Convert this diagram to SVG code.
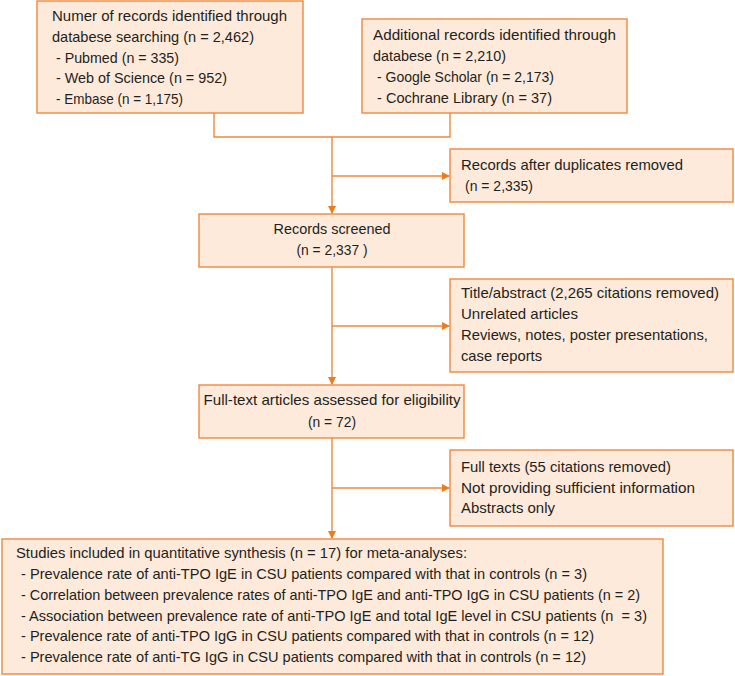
<svg xmlns="http://www.w3.org/2000/svg" width="735" height="676" viewBox="0 0 735 676">
<style>
.box{fill:#FDEADB;stroke:#F0883C;stroke-width:1.4}
.t{font-family:"Liberation Sans","DejaVu Sans",sans-serif;font-size:15px;fill:#231F20}
.s{font-size:14.5px}
.c{text-anchor:middle}
.ln{fill:none;stroke:#F0883C;stroke-width:1.4}
</style>
<defs>
<marker id="ah" markerWidth="8" markerHeight="8" refX="7" refY="4" orient="auto" markerUnits="userSpaceOnUse">
<path d="M0,0 L8,4 L0,8 Z" fill="#F07A1E"/>
</marker>
</defs>
<rect width="735" height="676" fill="#ffffff"/>
<g id="connectors">
<polyline class="ln" points="214,113 214,137 450,137 450,113"/>
<line class="ln" x1="332" y1="137" x2="332" y2="213" marker-end="url(#ah)"/>
<line class="ln" x1="332" y1="176" x2="449" y2="176" marker-end="url(#ah)"/>
<line class="ln" x1="332" y1="267" x2="332" y2="384" marker-end="url(#ah)"/>
<line class="ln" x1="332" y1="326" x2="449" y2="326" marker-end="url(#ah)"/>
<line class="ln" x1="332" y1="438" x2="332" y2="538" marker-end="url(#ah)"/>
<line class="ln" x1="332" y1="488" x2="449" y2="488" marker-end="url(#ah)"/>
</g>
<g id="db">
<rect class="box" x="37" y="1" width="266" height="112"/>
<text class="t" x="52" y="21" textLength="235" lengthAdjust="spacingAndGlyphs">Numer of records identified through</text>
<text class="t" x="52" y="42" textLength="202" lengthAdjust="spacingAndGlyphs">databese searching (n = 2,462)</text>
<text class="t" x="56" y="63" textLength="123" lengthAdjust="spacingAndGlyphs">- Pubmed (n = 335)</text>
<text class="t" x="56" y="83" textLength="171" lengthAdjust="spacingAndGlyphs">- Web of Science (n = 952)</text>
<text class="t" x="56" y="104" textLength="127" lengthAdjust="spacingAndGlyphs">- Embase (n = 1,175)</text>
</g>
<g id="additional">
<rect class="box" x="362" y="19" width="265" height="94"/>
<text class="t" x="373" y="40" textLength="243" lengthAdjust="spacingAndGlyphs">Additional records identified through</text>
<text class="t" x="373" y="61" textLength="133" lengthAdjust="spacingAndGlyphs">databese (n = 2,210)</text>
<text class="t" x="377" y="82" textLength="177" lengthAdjust="spacingAndGlyphs">- Google Scholar (n = 2,173)</text>
<text class="t" x="377" y="103" textLength="175" lengthAdjust="spacingAndGlyphs">- Cochrane Library (n = 37)</text>
</g>
<g id="duplicates">
<rect class="box" x="450" y="149" width="283" height="53"/>
<text class="t" x="461" y="170" textLength="222" lengthAdjust="spacingAndGlyphs">Records after duplicates removed</text>
<text class="t" x="465" y="191" textLength="68" lengthAdjust="spacingAndGlyphs">(n = 2,335)</text>
</g>
<g id="screened">
<rect class="box" x="199" y="214" width="265" height="53"/>
<text class="t c" x="332" y="234" textLength="117" lengthAdjust="spacingAndGlyphs">Records screened</text>
<text class="t c" x="332" y="255" textLength="71" lengthAdjust="spacingAndGlyphs">(n = 2,337 )</text>
</g>
<g id="title-abstract">
<rect class="box" x="450" y="279" width="283" height="93"/>
<text class="t" x="461" y="298" textLength="258" lengthAdjust="spacingAndGlyphs">Title/abstract (2,265 citations removed)</text>
<text class="t" x="461" y="319" textLength="117" lengthAdjust="spacingAndGlyphs">Unrelated articles</text>
<text class="t" x="461" y="340" textLength="247" lengthAdjust="spacingAndGlyphs">Reviews, notes, poster presentations,</text>
<text class="t" x="461" y="361" textLength="81" lengthAdjust="spacingAndGlyphs">case reports</text>
</g>
<g id="fulltext">
<rect class="box" x="199" y="385" width="265" height="53"/>
<text class="t c" x="332" y="405" textLength="257" lengthAdjust="spacingAndGlyphs">Full-text articles assessed for eligibility</text>
<text class="t c" x="332" y="427" textLength="48" lengthAdjust="spacingAndGlyphs">(n = 72)</text>
</g>
<g id="fulltext-removed">
<rect class="box" x="450" y="450" width="283" height="76"/>
<text class="t" x="461" y="472" textLength="210" lengthAdjust="spacingAndGlyphs">Full texts (55 citations removed)</text>
<text class="t" x="461" y="493" textLength="234" lengthAdjust="spacingAndGlyphs">Not providing sufficient information</text>
<text class="t" x="461" y="513" textLength="94" lengthAdjust="spacingAndGlyphs">Abstracts only</text>
</g>
<g id="included">
<rect class="box" x="2" y="539" width="661" height="135"/>
<text class="t s" x="16" y="558" textLength="451" lengthAdjust="spacingAndGlyphs">Studies included in quantitative synthesis (n = 17) for meta-analyses:</text>
<text class="t s" x="21" y="579" textLength="566" lengthAdjust="spacingAndGlyphs">- Prevalence rate of anti-TPO IgE in CSU patients compared with that in controls (n = 3)</text>
<text class="t s" x="21" y="600" textLength="619" lengthAdjust="spacingAndGlyphs">- Correlation between prevalence rates of anti-TPO IgE and anti-TPO IgG in CSU patients (n = 2)</text>
<text class="t s" x="21" y="621" textLength="626" lengthAdjust="spacingAndGlyphs" style="white-space:pre">- Association between prevalence rate of anti-TPO IgE and total IgE level in CSU patients (n  = 3)</text>
<text class="t s" x="21" y="641" textLength="573" lengthAdjust="spacingAndGlyphs">- Prevalence rate of anti-TPO IgG in CSU patients compared with that in controls (n = 12)</text>
<text class="t s" x="21" y="662" textLength="565" lengthAdjust="spacingAndGlyphs">- Prevalence rate of anti-TG IgG in CSU patients compared with that in controls (n = 12)</text>
</g>
</svg>
